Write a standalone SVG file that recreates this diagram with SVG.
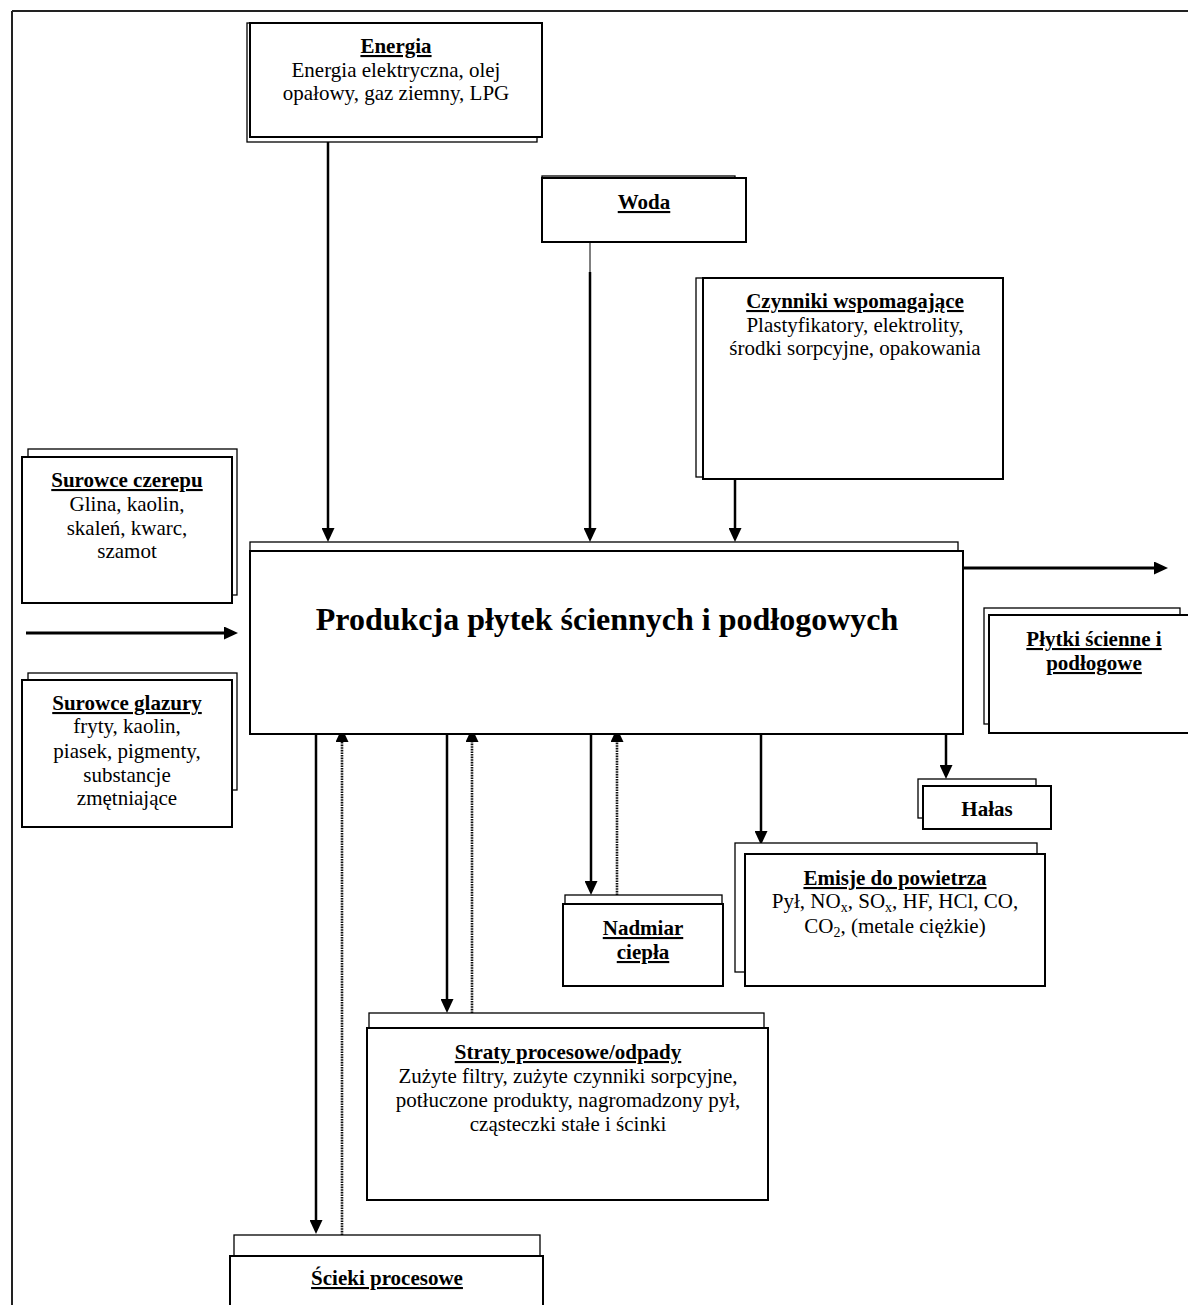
<svg xmlns="http://www.w3.org/2000/svg" width="1188" height="1305" viewBox="0 0 1188 1305">
<defs>
<style>
.bk{fill:#fff;stroke:#000;stroke-width:1.3}
.fr{fill:#fff;stroke:#000;stroke-width:2}
text{font-family:"Liberation Serif","Times New Roman",serif;font-size:21px;fill:#000;text-anchor:middle}
.t{font-weight:bold;text-decoration:underline}
.b{font-weight:bold}
.sol{stroke:#000;stroke-width:2.5;fill:none;marker-end:url(#ah)}
.dot{stroke:#111;stroke-width:2.6;stroke-dasharray:1.6 1;fill:none;marker-end:url(#ahd)}
.frame{stroke:#222;stroke-width:2;fill:none}
</style>
<marker id="ah" markerUnits="userSpaceOnUse" markerWidth="14" markerHeight="13" refX="10" refY="6.5" orient="auto">
<path d="M0,0 L14,6.5 L0,13 z" fill="#000"/>
</marker>
<marker id="ahd" markerUnits="userSpaceOnUse" markerWidth="14" markerHeight="13" refX="8" refY="6.5" orient="auto">
<path d="M0,0 L14,6.5 L0,13 z" fill="#000"/>
</marker>
</defs>
<rect width="1188" height="1305" fill="#fff"/>
<g id="frame">
<line class="frame" x1="12" y1="11" x2="1188" y2="11"/>
<line class="frame" x1="12" y1="11" x2="12" y2="1305"/>
</g>
<g id="connectors">
<line class="sol" x1="328" y1="142" x2="328" y2="538"/>
<line x1="590" y1="242" x2="590" y2="272" stroke="#000" stroke-width="1"/>
<line class="sol" x1="590" y1="272" x2="590" y2="538"/>
<line class="sol" x1="735" y1="479" x2="735" y2="538"/>
<line class="sol" x1="26" y1="633" x2="234" y2="633" style="stroke-width:3"/>
<line class="sol" x1="963" y1="568" x2="1164" y2="568" style="stroke-width:3"/>
<line class="sol" x1="316" y1="734" x2="316" y2="1230"/>
<line class="dot" x1="342" y1="1235" x2="342" y2="734"/>
<line class="sol" x1="447" y1="734" x2="447" y2="1009"/>
<line class="dot" x1="472" y1="1013" x2="472" y2="734"/>
<line class="sol" x1="591" y1="734" x2="591" y2="891"/>
<line class="dot" x1="617" y1="895" x2="617" y2="734"/>
<line class="sol" x1="761" y1="734" x2="761" y2="841"/>
<line class="sol" x1="946" y1="734" x2="946" y2="775"/>
</g>
<g id="energia">
<rect class="bk" x="247" y="23" width="290" height="119"/>
<rect class="fr" x="250" y="23" width="292" height="114"/>
<text x="396" y="53" class="t">Energia</text>
<text x="396" y="77">Energia elektryczna, olej</text>
<text x="396" y="100">opałowy, gaz ziemny, LPG</text>
</g>
<g id="woda">
<rect class="bk" x="542" y="176" width="193" height="60"/>
<rect class="fr" x="542" y="178" width="204" height="64"/>
<text x="644" y="209" class="t">Woda</text>
</g>
<g id="czynniki">
<rect class="bk" x="696" y="278" width="300" height="199"/>
<rect class="fr" x="703" y="278" width="300" height="201"/>
<text x="855" y="308" class="t">Czynniki wspomagające</text>
<text x="855" y="332">Plastyfikatory, elektrolity,</text>
<text x="855" y="355">środki sorpcyjne, opakowania</text>
</g>
<g id="surowce-czerepu">
<rect class="bk" x="28" y="449" width="209" height="146"/>
<rect class="fr" x="22" y="457" width="210" height="146"/>
<text x="127" y="487" class="t">Surowce czerepu</text>
<text x="127" y="511">Glina, kaolin,</text>
<text x="127" y="535">skaleń, kwarc,</text>
<text x="127" y="558">szamot</text>
</g>
<g id="surowce-glazury">
<rect class="bk" x="28" y="673" width="209" height="117"/>
<rect class="fr" x="22" y="680" width="210" height="147"/>
<text x="127" y="710" class="t">Surowce glazury</text>
<text x="127" y="733">fryty, kaolin,</text>
<text x="127" y="758">piasek, pigmenty,</text>
<text x="127" y="782">substancje</text>
<text x="127" y="805">zmętniające</text>
</g>
<g id="produkcja">
<rect class="bk" x="250" y="542" width="708" height="100"/>
<rect class="fr" x="250" y="551" width="713" height="183"/>
<text x="607" y="630" class="b" style="font-size:32px">Produkcja płytek ściennych i podłogowych</text>
</g>
<g id="plytki">
<rect class="bk" x="984" y="608" width="196" height="116"/>
<rect class="fr" x="989" y="615" width="220" height="118"/>
<text x="1094" y="646" class="t">Płytki ścienne i</text>
<text x="1094" y="670" class="t">podłogowe</text>
</g>
<g id="halas">
<rect class="bk" x="918" y="779" width="118" height="39"/>
<rect class="fr" x="923" y="786" width="128" height="43"/>
<text x="987" y="816" class="b">Hałas</text>
</g>
<g id="emisje">
<rect class="bk" x="735" y="843" width="302" height="129"/>
<rect class="fr" x="745" y="854" width="300" height="132"/>
<text x="895" y="885" class="t">Emisje do powietrza</text>
<text x="895" y="908">Pył, NO<tspan font-size="14" dy="4">x</tspan><tspan dy="-4">, SO</tspan><tspan font-size="14" dy="4">x</tspan><tspan dy="-4">, HF, HCl, CO,</tspan></text>
<text x="895" y="933">CO<tspan font-size="14" dy="4">2</tspan><tspan dy="-4">, (metale ciężkie)</tspan></text>
</g>
<g id="nadmiar">
<rect class="bk" x="565" y="895" width="157" height="80"/>
<rect class="fr" x="563" y="904" width="160" height="82"/>
<text x="643" y="935" class="t">Nadmiar</text>
<text x="643" y="959" class="t">ciepła</text>
</g>
<g id="straty">
<rect class="bk" x="369" y="1013" width="395" height="150"/>
<rect class="fr" x="367" y="1028" width="401" height="172"/>
<text x="568" y="1059" class="t">Straty procesowe/odpady</text>
<text x="568" y="1083">Zużyte filtry, zużyte czynniki sorpcyjne,</text>
<text x="568" y="1107">potłuczone produkty, nagromadzony pył,</text>
<text x="568" y="1131">cząsteczki stałe i ścinki</text>
</g>
<g id="scieki">
<rect class="bk" x="234" y="1235" width="306" height="60"/>
<rect class="fr" x="230" y="1256" width="313" height="60"/>
<text x="387" y="1285" class="t">Ścieki procesowe</text>
</g>
</svg>
